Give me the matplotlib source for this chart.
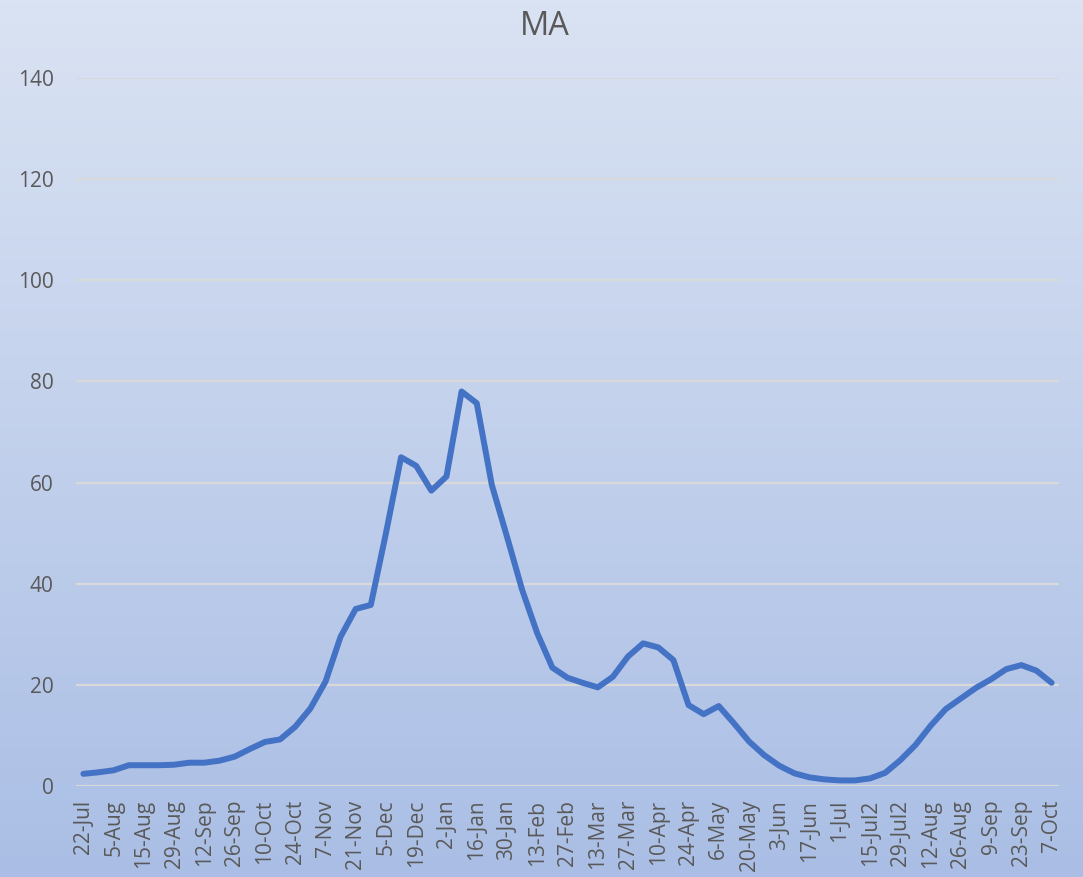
import numpy as np
import matplotlib
matplotlib.use('Agg')
import matplotlib.pyplot as plt
from matplotlib.colors import LinearSegmentedColormap

plt.rcParams['font.family'] = ['Open Sans', 'DejaVu Sans']

# weekly moving average values
values = [2.4, 2.7, 3.1, 4.1, 4.1, 4.1, 4.2, 4.6, 4.6, 5.0,
          5.8, 7.3, 8.7, 9.2, 11.7, 15.3, 20.6, 29.5, 35.0, 35.8,
          50.0, 65.0, 63.3, 58.4, 61.2, 78.0, 75.7, 59.5, 49.3, 38.8,
          30.2, 23.4, 21.4, 20.4, 19.5, 21.6, 25.6, 28.2, 27.4, 24.9,
          16.0, 14.2, 15.8, 12.4, 8.8, 6.1, 4.0, 2.5, 1.7, 1.3,
          1.1, 1.1, 1.5, 2.6, 5.1, 8.1, 11.9, 15.2, 17.3, 19.4,
          21.1, 23.1, 23.9, 22.8, 20.4]

# labels shown on every second category
tick_labels = ['22-Jul', '5-Aug', '15-Aug', '29-Aug', '12-Sep', '26-Sep', '10-Oct',
               '24-Oct', '7-Nov', '21-Nov', '5-Dec', '19-Dec', '2-Jan', '16-Jan',
               '30-Jan', '13-Feb', '27-Feb', '13-Mar', '27-Mar', '10-Apr', '24-Apr',
               '6-May', '20-May', '3-Jun', '17-Jun', '1-Jul', '15-Jul2', '29-Jul2',
               '12-Aug', '26-Aug', '9-Sep', '23-Sep', '7-Oct']

y_ticks = [0, 20, 40, 60, 80, 100, 120, 140]

fig = plt.figure(figsize=(10.83, 8.77), dpi=100)

# gradient background over the whole chart area
bg = fig.add_axes([0, 0, 1, 1], zorder=0)
cmap = LinearSegmentedColormap.from_list('bg', ['#dae3f3', '#aabee5'])
grad = np.linspace(0, 1, 256).reshape(-1, 1)
bg.imshow(grad, aspect='auto', cmap=cmap, extent=[0, 1, 0, 1], origin='upper')
bg.axis('off')

ax = fig.add_axes([0.070, 0.1038, 0.908, 0.8073], zorder=1)
ax.patch.set_alpha(0)

x = np.arange(len(values))
ax.plot(x, values, color='#4472c4', linewidth=4.3, solid_joinstyle='round',
        solid_capstyle='round', zorder=3)

ax.set_xlim(-0.5, len(values) - 0.5)
ax.set_ylim(0, 140)
ax.set_yticks(y_ticks)
ax.set_xticks(x[::2])
ax.set_xticklabels(tick_labels, rotation=90)

ax.grid(axis='y', color='#d9d9d9', linewidth=1.6)
ax.grid(axis='x', visible=False)
ax.set_axisbelow(True)
for s in ax.spines.values():
    s.set_visible(False)

ax.tick_params(axis='y', length=0, pad=16, labelsize=15, labelcolor='#595959')
ax.tick_params(axis='x', length=0, pad=10, labelsize=15, labelcolor='#595959')

fig.text(0.503, 1 - 35 / 877, 'MA', ha='center', va='baseline',
         fontsize=23.5, color='#595959')

plt.savefig('out.png', dpi=100)
